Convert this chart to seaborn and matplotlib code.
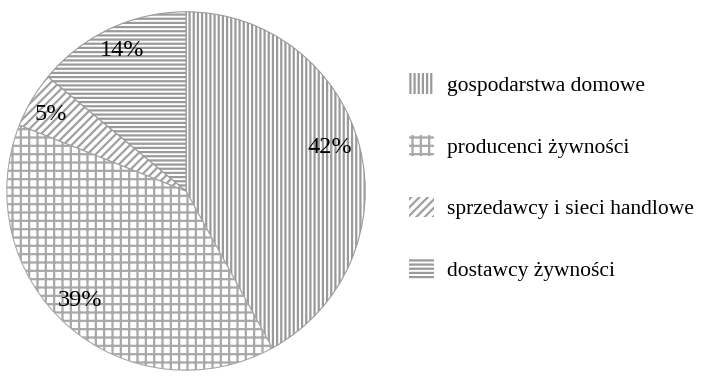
import numpy as np
import matplotlib
matplotlib.use("Agg")
import matplotlib.pyplot as plt
import matplotlib.patches as mpatches
import seaborn as sns

categories = ["gospodarstwa domowe", "producenci żywności",
              "sprzedawcy i sieci handlowe", "dostawcy żywności"]
shares = [42, 39, 5, 14]
pct_labels = ["42%", "39%", "5%", "14%"]

hatches = ["||||", "++", "////", "----"]
hatch_colors = ["#9a9a9a", "#a8a8a8", "#a0a0a0", "#9a9a9a"]
label_dist = [0.835, 0.85, 0.87, 0.86]
label_turn = [2.3, -2.6, 1.1, -0.7]   # small nudges in degrees

sns.set_style("white")
plt.rcParams["font.family"] = ["Liberation Serif", "DejaVu Serif"]
plt.rcParams["hatch.linewidth"] = 1.6

fig = plt.figure(figsize=(7.03, 3.81), dpi=100)
ax = fig.add_axes([4 / 703, 9 / 381, 364 / 703, 362 / 381])

wedges, _ = ax.pie(shares, startangle=90, counterclock=False,
                   colors=["white"] * 4,
                   wedgeprops=dict(linewidth=0.8))
for w, h, c in zip(wedges, hatches, hatch_colors):
    w.set_hatch(h)
    w.set_edgecolor(c)

# percentage labels placed along each wedge's middle angle
for w, txt, d, t in zip(wedges, pct_labels, label_dist, label_turn):
    ang = np.deg2rad((w.theta1 + w.theta2) / 2 + t)
    ax.text(d * np.cos(ang), d * np.sin(ang), txt, ha="center", va="center",
            fontsize=17.5, color="black")
ax.set_xlim(-1.01, 1.01)
ax.set_ylim(-1.01, 1.01)
ax.set_aspect("equal")

handles = [mpatches.Patch(facecolor="white", edgecolor=c, hatch=h, linewidth=0)
           for h, c in zip(hatches, hatch_colors)]
leg = fig.legend(handles, categories, loc="center left", bbox_to_anchor=(0.554, 0.535),
                 frameon=False, fontsize=15.5, handlelength=1.16, handleheight=1.1,
                 labelspacing=1.82, handletextpad=0.6)
for t in leg.get_texts():
    t.set_color("black")

fig.savefig("out.png", dpi=100)
